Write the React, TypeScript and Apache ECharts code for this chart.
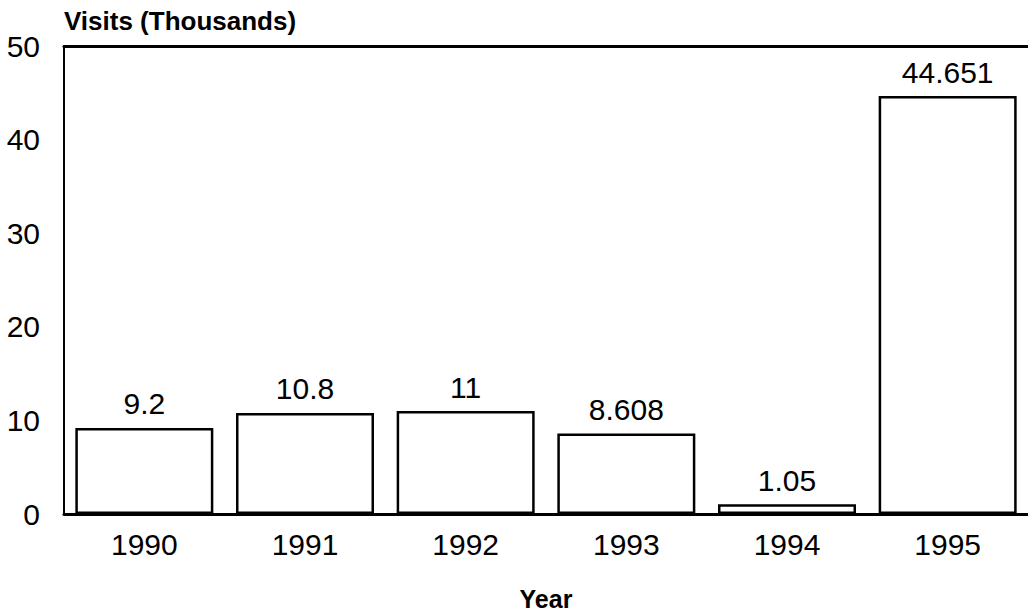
import React, { useEffect, useRef } from "react";
import * as echarts from "echarts";

const years = ["1990", "1991", "1992", "1993", "1994", "1995"];
const visits = [9.2, 10.8, 11, 8.608, 1.05, 44.651];
const yTicks = { min: 0, max: 50, interval: 10 };
const yAxisTitle = "Visits (Thousands)";
const xAxisTitle = "Year";

const SANS = "'Liberation Sans', Arial, sans-serif";

export default function App() {
  const ref = useRef<HTMLDivElement>(null);
  useEffect(() => {
    if (!ref.current) return;
    const chart = echarts.init(ref.current, undefined, { renderer: "svg" });
    chart.setOption({
      animation: false,
      backgroundColor: "#ffffff",
      grid: { left: 64, right: 0, top: 46, bottom: 102 },
      xAxis: [
        {
          type: "category",
          data: years,
          position: "bottom",
          axisLine: { show: true, lineStyle: { color: "#000", width: 3 } },
          axisTick: { show: false },
          axisLabel: { color: "#000", fontSize: 30, fontFamily: SANS, margin: 15 },
          name: xAxisTitle,
          nameLocation: "middle",
          nameGap: 72,
          nameTextStyle: { color: "#000", fontSize: 25, fontWeight: "bold", fontFamily: SANS, verticalAlign: "top" },
        },
        {
          type: "category",
          data: years,
          position: "top",
          axisLine: { show: true, lineStyle: { color: "#000", width: 3 } },
          axisTick: { show: false },
          axisLabel: { show: false },
        },
      ],
      yAxis: {
        type: "value",
        min: yTicks.min,
        max: yTicks.max,
        interval: yTicks.interval,
        axisLine: { show: true, lineStyle: { color: "#000", width: 2 } },
        axisTick: { show: false },
        splitLine: { show: false },
        axisLabel: { color: "#000", fontSize: 30, fontFamily: SANS, margin: 24 },
        name: yAxisTitle,
        nameLocation: "end",
        nameGap: 12,
        nameTextStyle: { color: "#000", fontSize: 26, fontWeight: "bold", fontFamily: SANS, align: "left", verticalAlign: "bottom" },
      },
      series: [
        {
          type: "bar",
          data: visits,
          barWidth: 138,
          itemStyle: { color: "#ffffff", borderColor: "#000", borderWidth: 2.5 },
          label: {
            show: true,
            position: "top",
            distance: 9,
            color: "#000",
            fontSize: 30,
            fontFamily: SANS,
          },
        },
      ],
    });
    return () => chart.dispose();
  }, []);
  return <div ref={ref} style={{ position: "absolute", left: 0, top: 0, width: 1028, height: 616 }} />;
}
